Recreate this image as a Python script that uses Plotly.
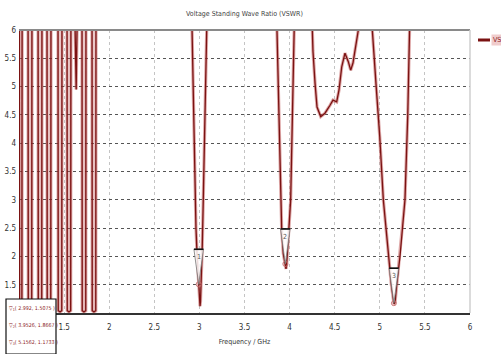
import plotly.graph_objects as go

# ---------------- data ----------------
freq_ghz = [
    1.000, 1.003, 1.006, 1.019, 1.032, 1.035,
    1.100, 1.103, 1.122, 1.141, 1.144,
    1.211, 1.214, 1.233, 1.252, 1.255,
    1.310, 1.313, 1.332, 1.352, 1.355,
    1.432, 1.435, 1.455, 1.474, 1.477,
    1.532, 1.535, 1.554, 1.573, 1.576,
    1.615, 1.622, 1.630, 1.634, 1.638, 1.646, 1.653,
    1.698, 1.701, 1.720, 1.740, 1.743,
    1.809, 1.812, 1.831, 1.851, 1.854,
    2.200, 2.600, 2.900,
    2.918, 2.935, 2.951, 2.962, 2.975, 2.992, 3.003, 3.007, 3.012, 3.021, 3.032, 3.043, 3.060, 3.084, 3.100,
    3.500, 3.840,
    3.860, 3.880, 3.901, 3.912, 3.930, 3.9526, 3.960, 3.967, 3.975, 3.993, 4.012, 4.030, 4.049, 4.070,
    4.150, 4.230,
    4.252, 4.259, 4.282, 4.304, 4.345, 4.392, 4.448, 4.481, 4.522, 4.548, 4.578, 4.614, 4.651, 4.677,
    4.703, 4.736, 4.762, 4.780,
    4.840, 4.900,
    4.917, 4.960, 5.000, 5.039, 5.069, 5.094, 5.128, 5.1562, 5.163, 5.170, 5.187, 5.224, 5.250, 5.279,
    5.310, 5.335, 5.350,
    5.700, 6.000,
]
vswr = [
    7.5, 7.5, 1.04, 1.02, 1.04, 7.5,
    7.5, 1.04, 1.02, 1.04, 7.5,
    7.5, 1.04, 1.02, 1.04, 7.5,
    7.5, 1.04, 1.02, 1.04, 7.5,
    7.5, 1.04, 1.02, 1.04, 7.5,
    7.5, 1.04, 1.02, 1.04, 7.5,
    7.0, 6.0, 5.45, 4.95, 5.45, 6.0, 7.0,
    7.5, 1.04, 1.02, 1.04, 7.5,
    7.5, 1.04, 1.02, 1.04, 7.5,
    12.0, 10.0, 7.5,
    6.0, 4.5, 3.0, 2.5, 2.0, 1.5075, 1.15, 1.12, 1.2, 1.55, 2.2, 3.0, 4.3, 6.0, 7.5,
    12.0, 7.5,
    6.0, 4.5, 3.0, 2.5, 2.05, 1.8667, 1.78, 1.85, 2.1, 2.55, 3.0, 4.4, 6.0, 7.5,
    9.0, 7.0,
    6.0, 5.63, 5.06, 4.64, 4.47, 4.53, 4.67, 4.76, 4.73, 4.94, 5.35, 5.59, 5.44, 5.29,
    5.42, 5.77, 6.0, 7.0,
    8.0, 7.0,
    6.0, 5.0, 4.1, 3.0, 2.5, 2.0, 1.5, 1.1733, 1.17, 1.2, 1.5, 2.0, 2.5, 3.0,
    4.5, 6.0, 7.5,
    12.0, 12.0,
]

marker_ids = ["1", "2", "3"]
marker_freq = [2.992, 3.9526, 5.1562]
marker_vswr = [1.5075, 1.8667, 1.1733]
marker_text = ["( 2.992, 1.5075 )", "( 3.9526, 1.8667 )", "( 5.1562, 1.1733 )"]

x_ticks = [1.5, 2, 2.5, 3, 3.5, 4, 4.5, 5, 5.5, 6]
x_tick_labels = ["1.5", "2", "2.5", "3", "3.5", "4", "4.5", "5", "5.5", "6"]
y_ticks = [1.5, 2, 2.5, 3, 3.5, 4, 4.5, 5, 5.5, 6]
y_tick_labels = ["1.5", "2", "2.5", "3", "3.5", "4", "4.5", "5", "5.5", "6"]

title_text = "Voltage Standing Wave Ratio (VSWR)"
x_title = "Frequency / GHz"
series_name = "VSWR"

# ---------------- style ----------------
FONT = "Liberation Sans Narrow, DejaVu Sans Condensed, Arial Narrow, Liberation Sans, sans-serif"
DARK_RED = "#7a1212"
HALO = "rgba(190,80,80,0.5)"
W, H = 501, 354
ML, MR, MT, MB = 19, 31, 30, 41
PW, PH = W - ML - MR, H - MT - MB
X0, X1, Y0, Y1 = 1.0, 6.0, 1.0, 6.0
gx = (X1 - X0) / PW   # data units per pixel
gy = (Y1 - Y0) / PH

fig = go.Figure()
fig.add_trace(go.Scatter(x=freq_ghz, y=vswr, mode="lines",
                         line=dict(color=HALO, width=3.2), hoverinfo="skip",
                         showlegend=False))
fig.add_trace(go.Scatter(x=freq_ghz, y=vswr, mode="lines", name=series_name,
                         line=dict(color=DARK_RED, width=1.3), showlegend=False))
fig.add_trace(go.Scatter(x=marker_freq, y=marker_vswr, mode="markers",
                         marker=dict(symbol="circle-open", size=5,
                                     color="rgba(200,110,110,0.9)", line=dict(width=1)),
                         showlegend=False, hoverinfo="skip"))

shapes = []
annotations = []
# marker triangles (tip at marker point)
tri_w = 9.5 * gx
tri_h = 35 * gy
for mid, mf, mv in zip(marker_ids, marker_freq, marker_vswr):
    xl, xr, yt = mf - tri_w / 2, mf + tri_w / 2, mv + tri_h
    shapes.append(dict(type="path", xref="x", yref="y",
                       path=f"M {xl},{yt} L {xr},{yt} L {mf},{mv} Z",
                       fillcolor="rgba(255,255,255,0.85)",
                       line=dict(color="#777", width=0.8)))
    shapes.append(dict(type="line", xref="x", yref="y", x0=xl, x1=xr, y0=yt, y1=yt,
                       line=dict(color="#111", width=1.6)))
    annotations.append(dict(x=mf, y=yt - 8 * gy, xref="x", yref="y", text=mid,
                            showarrow=False, font=dict(family=FONT, size=7, color="#555")))

# frame lines
shapes.append(dict(type="line", xref="paper", yref="paper", x0=0, x1=1, y0=1, y1=1,
                   line=dict(color="#8a8a8a", width=2)))
shapes.append(dict(type="line", xref="paper", yref="paper", x0=1, x1=1, y0=0, y1=1,
                   line=dict(color="#cfcfcf", width=1.5)))

# marker readout box (bottom-left)
def px_x(p):
    return (p - ML) / PW

def px_y(p):
    return (H - MB - p) / PH

shapes.append(dict(type="rect", xref="paper", yref="paper",
                   x0=px_x(6), x1=px_x(56), y0=px_y(354), y1=px_y(299),
                   fillcolor="white", line=dict(color="#111", width=1.2), layer="above"))
row_px = [308, 325, 342]
for mid, txt, rp in zip(marker_ids, marker_text, row_px):
    annotations.append(dict(x=px_x(7), y=px_y(rp), xref="paper", yref="paper",
                            xanchor="left", yanchor="middle", showarrow=False,
                            text=f"▽<sub>{mid}</sub>{txt}",
                            font=dict(family=FONT, size=5.3, color="#8b2323")))

# manual legend
shapes.append(dict(type="line", xref="paper", yref="paper",
                   x0=px_x(478), x1=px_x(490), y0=px_y(40), y1=px_y(40),
                   line=dict(color=DARK_RED, width=3)))
annotations.append(dict(x=px_x(491), y=px_y(40), xref="paper", yref="paper",
                        xanchor="left", yanchor="middle", showarrow=False,
                        text=series_name[:2], bgcolor="rgba(230,170,170,0.6)",
                        font=dict(family=FONT, size=7, color="#8b2323")))

fig.update_layout(
    width=W, height=H,
    margin=dict(l=ML, r=MR, t=MT, b=MB, autoexpand=False),
    paper_bgcolor="white", plot_bgcolor="white",
    title=dict(text=title_text, x=(ML + PW / 2) / W, xanchor="center",
               y=1 - 14 / H, yanchor="middle", automargin=False,
               font=dict(family=FONT, size=7, color="#444")),
    xaxis=dict(range=[X0, X1], tickvals=x_ticks, ticktext=x_tick_labels,
               showgrid=True, gridcolor="#c4c4c4", griddash="dot", gridwidth=1,
               zeroline=False, showline=True, linecolor="#333", linewidth=1.5,
               ticks="", ticklabelstandoff=6, automargin=False,
               tickfont=dict(family=FONT, size=8, color="#333"),
               title=dict(text=x_title, standoff=8,
                          font=dict(family=FONT, size=7, color="#333"))),
    yaxis=dict(range=[Y0, Y1], tickvals=y_ticks, ticktext=y_tick_labels,
               showgrid=True, gridcolor="#555", griddash="dot", gridwidth=1,
               zeroline=False, showline=False, ticks="", ticklabelstandoff=2,
               automargin=False,
               tickfont=dict(family=FONT, size=8, color="#333")),
    shapes=shapes, annotations=annotations,
    showlegend=False,
)

fig.write_html("out.html", config={"displayModeBar": False},
               post_script="document.body.style.margin='0';document.body.style.overflow='hidden';")
